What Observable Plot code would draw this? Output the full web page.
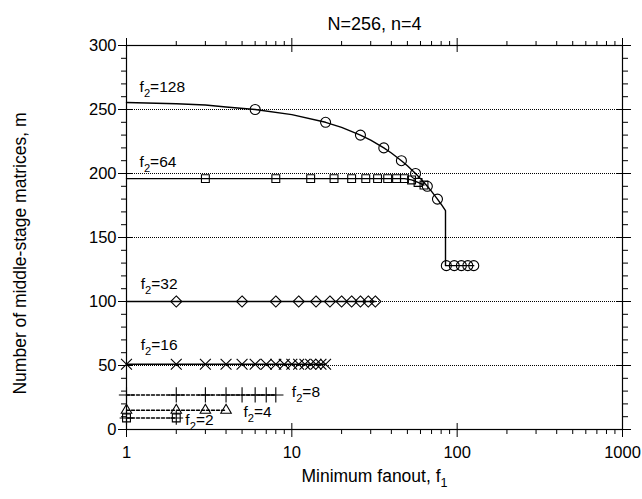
<!DOCTYPE html>
<html><head><meta charset="utf-8">
<script src="https://cdn.jsdelivr.net/npm/d3@7"></script>
<script src="https://cdn.jsdelivr.net/npm/@observablehq/plot@0.6"></script>
<style>body{margin:0;background:#fff}</style>
</head><body><div id="chart"></div>
<script>
// ---- text ----
const titleText = "N=256, n=4";
const xLabelText = "Minimum fanout, f_1";
const yLabelText = "Number of middle-stage matrices, m";

// ---- ticks ----
const xMajorTicks = [1, 10, 100, 1000];
const xMinorTicks = [2,3,4,5,6,7,8,9,20,30,40,50,60,70,80,90,200,300,400,500,600,700,800,900];
const yMajorTicks = [0, 50, 100, 150, 200, 250, 300];
const yMinorTicks = [10,20,30,40,60,70,80,90,110,120,130,140,160,170,180,190,210,220,230,240,260,270,280,290];
const gridLines = [50, 100, 150, 200, 250];

// ---- f2 = 128 (circles) ----
const f128CurveF1 = [1, 2, 3, 4, 6, 10, 16, 20, 26, 30, 36, 40, 46, 50, 56, 60, 66, 70, 76, 80, 85, 85, 100, 126];
const f128CurveM  = [255.5, 254.5, 253.5, 252, 250, 246, 240, 236, 230, 226, 220, 216, 210, 206, 200, 196, 190, 186, 180, 176, 171, 128, 128, 128];
const f128F1 = [6, 16, 26, 36, 46, 56, 66, 76, 86, 96, 106, 116, 126];
const f128M  = [250, 240, 230, 220, 210, 200, 190, 180, 128, 128, 128, 128, 128];
// ---- f2 = 64 (squares) ----
const f64F1 = [1, 3, 8, 13, 18, 23, 28, 33, 38, 43, 48, 53, 58, 63];
const f64M  = [196, 196, 196, 196, 196, 196, 196, 196, 196, 196, 196, 195, 193, 191];
// ---- f2 = 32 (diamonds) ----
const f32F1 = [1, 2, 5, 8, 11, 14, 17, 20, 23, 26, 29, 32];
const f32M  = [100, 100, 100, 100, 100, 100, 100, 100, 100, 100, 100, 100];
// ---- f2 = 16 (times) ----
const f16F1 = [1, 2, 3, 4, 5, 6, 7, 8, 9, 10, 11, 12, 13, 14, 15, 16];
const f16M  = [51, 51, 51, 51, 51, 51, 51, 51, 51, 51, 51, 51, 51, 51, 51, 51];
// ---- f2 = 8 (plus) ----
const f8F1 = [1, 2, 3, 4, 5, 6, 7, 8];
const f8M  = [27, 27, 27, 27, 27, 27, 27, 27];
// ---- f2 = 4 (triangles) ----
const f4F1 = [1, 2, 3, 4];
const f4M  = [15, 15, 15, 15];
// ---- f2 = 2 (boxed plus) ----
const f2F1 = [1, 2];
const f2M  = [9, 9];

// ---- curve labels (anchor in data units) ----
const labelTexts = ["f_2=128", "f_2=64", "f_2=32", "f_2=16", "f_2=8", "f_2=4", "f_2=2"];
const labelF1 = [1.2, 1.2, 1.22, 1.22, 10.0, 5.1, 2.27];
const labelM  = [263.5, 205, 110, 62, 25.5, 9.8, 3.2];

const zip = (xs, ys) => xs.map((x, i) => ({f1: x, m: ys[i]}));

const series = [
  {line: zip(f128CurveF1, f128CurveM), pts: zip(f128F1, f128M), symbols: ["circle"], dash: null},
  {line: zip(f64F1, f64M), pts: zip(f64F1, f64M).slice(1), symbols: ["square2"], dash: null},
  {line: zip(f32F1, f32M), pts: zip(f32F1, f32M).slice(1), symbols: ["diamond2"], dash: null},
  {line: zip(f16F1, f16M), pts: zip(f16F1, f16M), symbols: ["times"], dash: null},
  {line: zip(f8F1, f8M), pts: zip(f8F1, f8M), symbols: ["plus"], dash: "3,2"},
  {line: zip(f4F1, f4M), pts: zip(f4F1, f4M), symbols: ["triangle2"], dash: "3,2"},
  {line: zip(f2F1, f2M), pts: zip(f2F1, f2M), symbols: ["square2", "plus"], dash: "3,2"}
];
const labels = labelTexts.map((t, i) => ({t, f1: labelF1[i], m: labelM[i]}));

const font = "'Liberation Sans', Arial, Helvetica, sans-serif";
const marks = [
  Plot.ruleY(gridLines, {stroke: "black", strokeDasharray: "1,1", strokeWidth: 1})
];
for (const s of series) {
  marks.push(Plot.line(s.line, {x: "f1", y: "m", stroke: "black", strokeWidth: 1.4, strokeDasharray: s.dash ?? undefined}));
  for (const sym of s.symbols) {
    marks.push(Plot.dot(s.pts, {x: "f1", y: "m", symbol: sym, r: sym === "plus" && s.symbols.length > 1 ? 4.5 : 5, stroke: "black", strokeWidth: 1.1, fill: "none"}));
  }
}
marks.push(
  Plot.text(labels, {x: "f1", y: "m", text: "t", textAnchor: "start", lineAnchor: "bottom", fontSize: 15.5, fill: "black"}),
  Plot.frame({stroke: "black", strokeWidth: 1.2}),
  Plot.axisX(xMinorTicks, {anchor: "bottom", tickSize: 5, text: null, label: null}),
  Plot.axisX(xMinorTicks, {anchor: "top", tickSize: 5, text: null, label: null}),
  Plot.axisX(xMajorTicks, {anchor: "bottom", tickSize: 8, tickPadding: 9, tickFormat: d => String(d), label: null, fontSize: 16.5}),
  Plot.axisX(xMajorTicks, {anchor: "bottom", tickSize: -6, text: null, label: null}),
  Plot.axisX(xMajorTicks, {anchor: "top", tickSize: 8, text: null, label: null}),
  Plot.axisX(xMajorTicks, {anchor: "top", tickSize: -6, text: null, label: null}),
  Plot.axisY(yMinorTicks, {anchor: "left", tickSize: 5, text: null, label: null}),
  Plot.axisY(yMinorTicks, {anchor: "right", tickSize: 5, text: null, label: null}),
  Plot.axisY(yMajorTicks, {anchor: "left", tickSize: 8, tickPadding: 2, label: null, fontSize: 16.5}),
  Plot.axisY(yMajorTicks, {anchor: "left", tickSize: -6, text: null, label: null}),
  Plot.axisY(yMajorTicks, {anchor: "right", tickSize: 8, text: null, label: null}),
  Plot.axisY(yMajorTicks, {anchor: "right", tickSize: -6, text: null, label: null}),
  Plot.text([titleText], {text: d => d, frameAnchor: "top", dy: -28, fontSize: 18, fill: "black"}),
  Plot.text([xLabelText], {text: d => d, frameAnchor: "bottom", dy: 52, fontSize: 17.5, fill: "black"}),
  Plot.text([yLabelText], {text: d => d, frameAnchor: "left", textAnchor: "middle", rotate: -90, dx: -106, dy: 16, fontSize: 17.5, fill: "black"})
);

const chart = Plot.plot({
  width: 642, height: 499,
  marginLeft: 126, marginRight: 20, marginTop: 45, marginBottom: 70,
  style: {fontFamily: font, fontSize: "15px", color: "black", background: "white", overflow: "visible"},
  x: {type: "log", domain: [1, 1000], label: null},
  y: {domain: [0, 300], label: null},
  marks
});

// subscripts: "a_Db" -> a, subscript D, b
const NS = "http://www.w3.org/2000/svg";
chart.querySelectorAll("text").forEach(t => {
  const s = t.textContent;
  const mm = s.match(/^(.*)_(\d)(.*)$/);
  if (!mm) return;
  t.textContent = "";
  const a = document.createElementNS(NS, "tspan"); a.textContent = mm[1]; t.appendChild(a);
  const b = document.createElementNS(NS, "tspan"); b.textContent = mm[2];
  b.setAttribute("dy", "5"); b.setAttribute("font-size", "0.72em"); t.appendChild(b);
  if (mm[3]) {
    const c = document.createElementNS(NS, "tspan"); c.textContent = mm[3];
    c.setAttribute("dy", "-5"); t.appendChild(c);
  }
});
document.getElementById("chart").appendChild(chart);
</script>
</body></html>
